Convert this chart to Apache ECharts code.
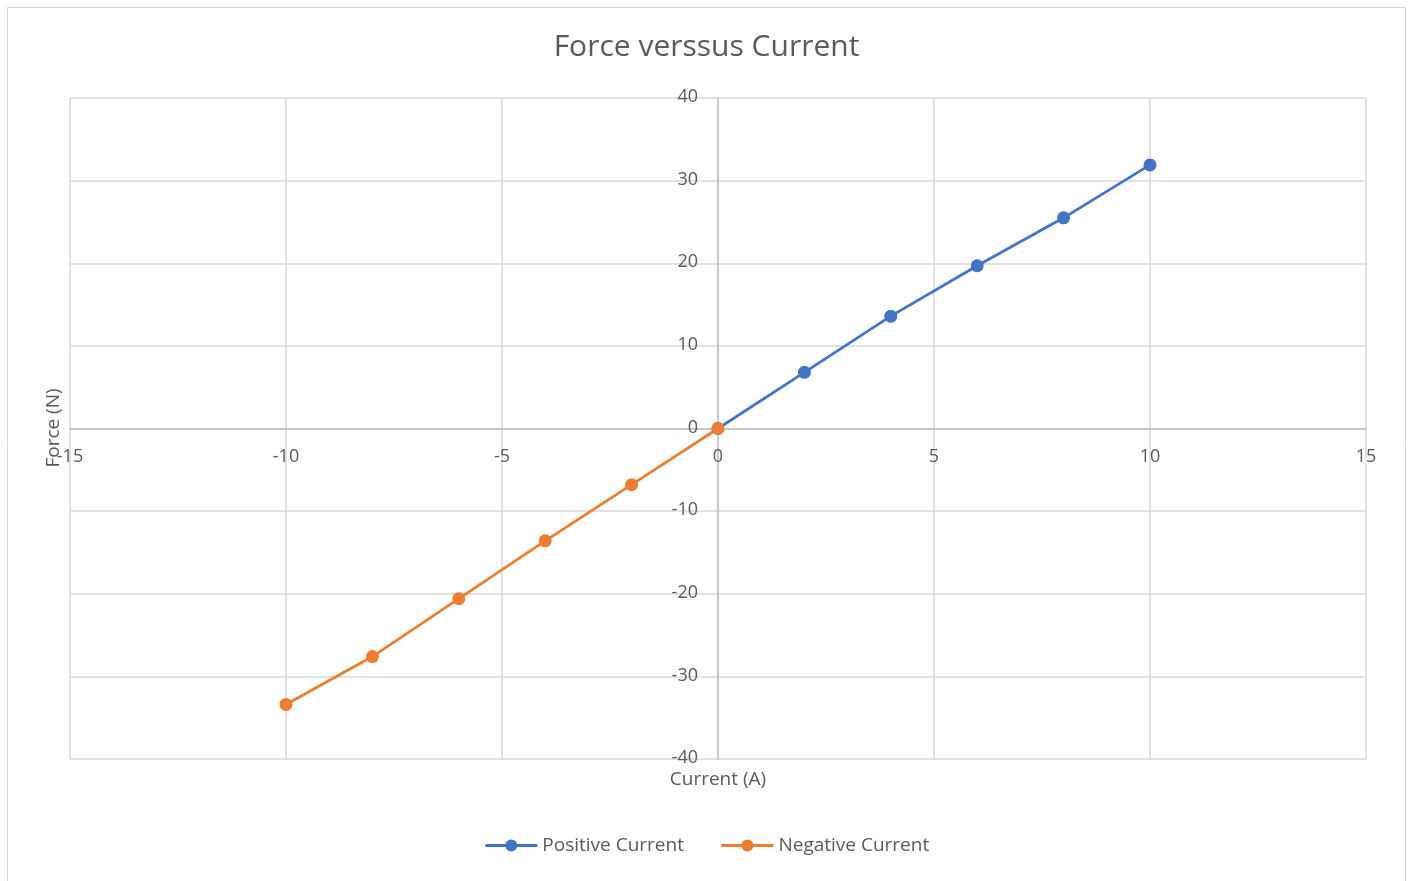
<!DOCTYPE html>
<html>
<head>
<meta charset="utf-8">
<script src="https://cdn.jsdelivr.net/npm/echarts@6/dist/echarts.min.js"></script>
<style>html,body{margin:0;padding:0;background:#fff}#c{width:1413px;height:881px}</style>
</head>
<body>
<div id="c"></div>
<script>
const currents = [0, 2, 4, 6, 8, 10];
const positiveForce = [0, 6.8, 13.6, 19.7, 25.5, 31.9];
const negCurrents = [0, -2, -4, -6, -8, -10];
const negativeForce = [0, -6.8, -13.6, -20.6, -27.6, -33.4];

const font = '"Open Sans", "Noto Sans", sans-serif';
const gridL = 70, gridR = 47, gridT = 98, gridB = 122;
const W = 1413, H = 881;
const plotW = W - gridL - gridR, plotH = H - gridT - gridB;
const chart = echarts.init(document.getElementById('c'));
chart.setOption({
  animation: false,
  title: {
    text: 'Force verssus Current', left: 'center', top: 27,
    textStyle: { fontFamily: font, fontSize: 30, fontWeight: 'normal', color: '#595959' }
  },
  graphic: [
    { type: 'rect', shape: { x: 7.5, y: 7.5, width: 1398, height: 880 }, style: { fill: 'none', stroke: '#d9d9d9', lineWidth: 1 }, silent: true },
    { type: 'text', x: 718, y: 780, style: { text: 'Current (A)', font: '19px ' + font, fill: '#595959', textAlign: 'center', textVerticalAlign: 'middle' } },
    { type: 'text', rotation: Math.PI / 2, x: 54, y: 428, style: { text: 'Force (N)', font: '19px ' + font, fill: '#595959', textAlign: 'center', textVerticalAlign: 'middle' } }
  ],
  legend: {
    bottom: 21, left: 'center', itemGap: 36, itemWidth: 52, itemHeight: 15,
    textStyle: { fontFamily: font, fontSize: 19, color: '#595959' },
    lineStyle: { width: 3 },
    data: ['Positive Current', 'Negative Current']
  },
  grid: { left: gridL, right: gridR, top: gridT, bottom: gridB },
  xAxis: {
    type: 'value', min: -15, max: 15, interval: 5,
    position: 'bottom', offset: -plotH / 2,
    axisLine: { onZero: false, lineStyle: { color: '#bfbfbf', width: 1.5 } },
    axisTick: { show: false },
    axisLabel: { margin: 19, fontFamily: font, fontSize: 18, color: '#595959' },
    splitLine: { lineStyle: { color: '#d9d9d9', width: 1.5 } }
  },
  yAxis: {
    type: 'value', min: -40, max: 40, interval: 10,
    position: 'left', offset: -plotW / 2,
    axisLine: { show: true, onZero: false, lineStyle: { color: '#bfbfbf', width: 1.5 } },
    axisTick: { show: false },
    axisLabel: { margin: 20, fontFamily: font, fontSize: 18, color: '#595959', verticalAlign: 'bottom', padding: [0, 0, -8, 0] },
    splitLine: { lineStyle: { color: '#d9d9d9', width: 1.5 } }
  },
  series: [
    {
      name: 'Positive Current', type: 'line',
      data: currents.map((c, i) => [c, positiveForce[i]]),
      symbol: 'circle', symbolSize: 13,
      lineStyle: { color: '#4472C4', width: 2.75 },
      itemStyle: { color: '#4472C4' }
    },
    {
      name: 'Negative Current', type: 'line',
      data: negCurrents.map((c, i) => [c, negativeForce[i]]),
      symbol: 'circle', symbolSize: 13,
      lineStyle: { color: '#ED7D31', width: 2.75 },
      itemStyle: { color: '#ED7D31' }
    }
  ]
});
</script>
</body>
</html>
